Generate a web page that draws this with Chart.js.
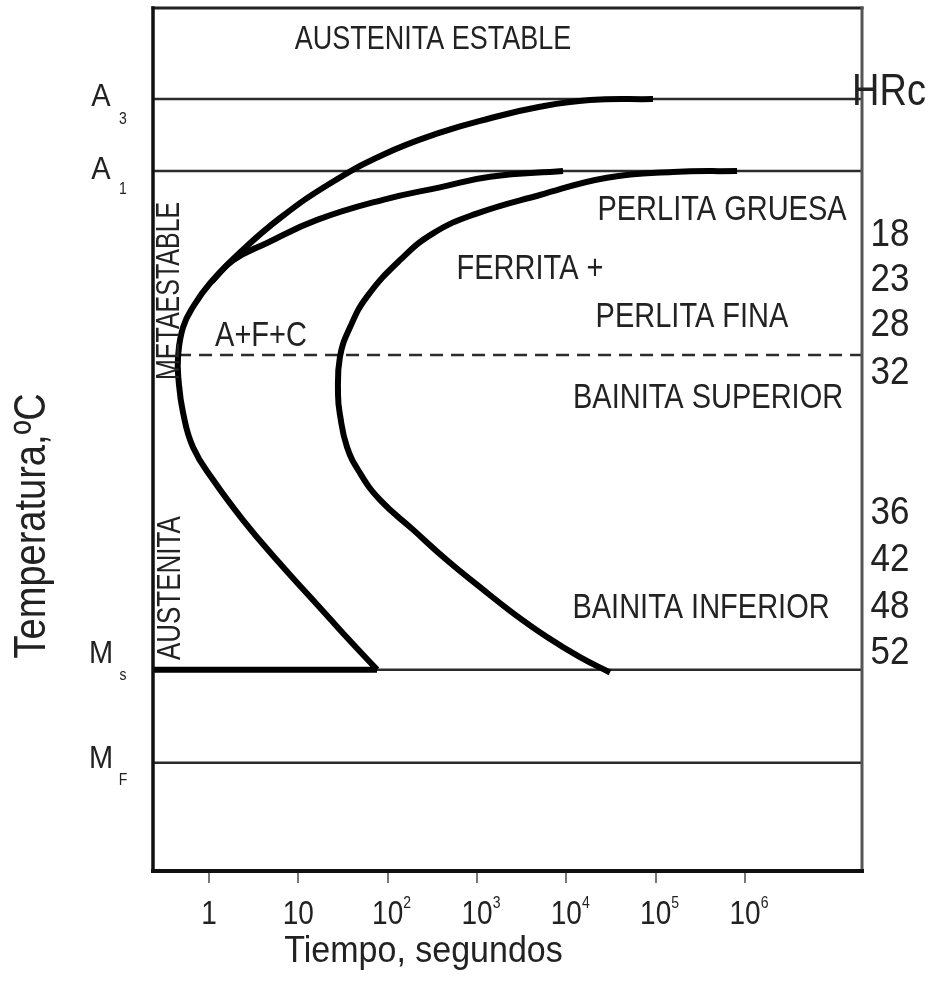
<!DOCTYPE html>
<html>
<head>
<meta charset="utf-8">
<script src="https://cdn.jsdelivr.net/npm/chart.js@4.4.1/dist/chart.umd.min.js"></script>
<style>
  html, body { margin: 0; padding: 0; background: #fff; }
  canvas { display: block; }
</style>
</head>
<body>
<canvas id="ttt" width="932" height="981"></canvas>
<script>
// Diagrama TTT (tiempo en s, temperatura en ºC)
var timeMin = 0.236, timeMax = 2.04e7;
var tempMin = 0, tempMax = 900;

var decades = [1, 10, 100, 1e3, 1e4, 1e5, 1e6];
var decadeBase = ['1', '10', '10', '10', '10', '10', '10'];
var decadeExp = ['', '', '2', '3', '4', '5', '6'];

// curva de inicio de transformacion
var startTime = [93300, 18400, 5070, 1400, 385, 88.7, 22.6, 6.24, 2.22, 1.026, 0.68, 0.512, 0.450, 0.456, 0.512, 0.662, 1.11, 2.40, 5.77, 13.5, 31.6, 76];
var startTemp = [805, 804, 797, 785, 770, 747, 717, 681, 645, 613, 590, 567, 536, 512, 478, 442, 408, 366, 324, 286, 248, 210];

// rama de ferrita proeutectoide (desde A1)
var branchTime = [9180, 1400, 385, 88.7, 16.2, 4.46, 1.86, 1.08];
var branchTemp = [730, 724, 713, 700, 679, 655, 637, 615];

// curva de fin de transformacion
var finishTime = [815000, 156000, 28500, 5070, 950, 322, 137, 58.7, 37.9, 29.2, 27.8, 29.2, 35.1, 49, 82, 192, 462, 1081, 2530, 6080, 14200, 30800];
var finishTemp = [730, 729, 723, 705, 685, 665, 637, 599, 567, 536, 497, 476, 442, 415, 387, 356, 324, 296, 269, 244, 223, 207];

// temperaturas criticas
var tempA3 = 805, tempA1 = 730, tempPerlBain = 538, tempMs = 210, tempMf = 113;

// dureza HRc segun temperatura de transformacion
var hrcValues = [18, 23, 28, 32, 36, 42, 48, 52];
var hrcTemps = [663, 616, 569, 519, 373, 324, 275, 227];

function pts(xs, ys) {
    return xs.map(function (v, i) { return { x: v, y: ys[i] }; });
}

function hline(t, x0, x1) {
    return [{ x: x0, y: t }, { x: x1, y: t }];
}

// texto algo alargado en vertical, como en el original
function stretched(ctx, text, px, py, size, sy, rot, align) {
    ctx.save();
    ctx.translate(px, py);
    if (rot) ctx.rotate(rot);
    ctx.scale(1, sy);
    ctx.font = size + 'px "Liberation Sans", Arial, sans-serif';
    ctx.textAlign = align || 'center';
    ctx.textBaseline = 'middle';
    ctx.fillText(text, 0, 0);
    ctx.restore();
}

var diagramText = {
    id: 'diagramText',
    afterDraw: function (chart) {
        var ctx = chart.ctx, a = chart.chartArea;
        var x = chart.scales.x, y = chart.scales.y;

        // marco
        ctx.save();
        function seg(x0, y0, x1, y1, w, c) {
            ctx.beginPath();
            ctx.lineWidth = w;
            ctx.strokeStyle = c;
            ctx.moveTo(x0, y0);
            ctx.lineTo(x1, y1);
            ctx.stroke();
        }
        ctx.lineCap = 'square';
        seg(a.left, a.top, a.right, a.top, 3, '#222');
        seg(a.right, a.top, a.right, a.bottom, 3, '#555');
        seg(a.left, a.top, a.left, a.bottom, 3.5, '#111');
        seg(a.left, a.bottom, a.right, a.bottom, 4, '#111');
        ctx.restore();

        ctx.save();
        ctx.fillStyle = '#222';

        // etiquetas de regiones
        var regions = [
            ['AUSTENITA ESTABLE', 322, 867, 27],
            ['PERLITA GRUESA', 553000, 689, 29],
            ['FERRITA +', 3920, 627, 29],
            ['PERLITA FINA', 255000, 577, 29],
            ['A+F+C', 3.82, 557, 29],
            ['BAINITA SUPERIOR', 386000, 493, 29],
            ['BAINITA INFERIOR', 322000, 274, 29]
        ];
        regions.forEach(function (r) {
            stretched(ctx, r[0], x.getPixelForValue(r[1]), y.getPixelForValue(r[2]), r[3], 1.2);
        });
        stretched(ctx, 'METAESTABLE', x.getPixelForValue(0.366), y.getPixelForValue(605), 25, 1.3, -Math.PI / 2);
        stretched(ctx, 'AUSTENITA', x.getPixelForValue(0.376), y.getPixelForValue(295), 26, 1.3, -Math.PI / 2);

        // temperaturas criticas a la izquierda
        var crit = [
            ['A', '3', tempA3, -2, 20],
            ['A', '1', tempA1, -1, 18],
            ['M', 's', tempMs, -15, 6],
            ['M', 'F', tempMf, -3, 18]
        ];
        crit.forEach(function (c) {
            var py = y.getPixelForValue(c[2]);
            stretched(ctx, c[0], a.left - 52, py + c[3], 29, 1.1);
            stretched(ctx, c[1], a.left - 30, py + c[4], 14, 1.2);
        });

        // dureza HRc a la derecha
        stretched(ctx, 'HRc', a.right + 27, y.getPixelForValue(tempA3) - 6, 38, 1.15);
        hrcValues.forEach(function (v, i) {
            stretched(ctx, String(v), a.right + 28, y.getPixelForValue(hrcTemps[i]), 35, 1.1);
        });

        // etiquetas del eje de tiempo
        decades.forEach(function (d, i) {
            var px = x.getPixelForValue(d);
            stretched(ctx, decadeBase[i], px, a.bottom + 44, 28, 1.2);
            if (decadeExp[i]) {
                ctx.font = '28px "Liberation Sans", Arial, sans-serif';
                var w = ctx.measureText(decadeBase[i]).width;
                stretched(ctx, decadeExp[i], px + w / 2 + 4, a.bottom + 32, 14, 1.2);
            }
        });

        // titulos de ejes
        stretched(ctx, 'Tiempo, segundos', (a.left + a.right) / 2 - 84, a.bottom + 81, 34, 1.1);
        stretched(ctx, 'Temperatura,ºC', 33, y.getPixelForValue(tempMs + 150), 38, 1.18, -Math.PI / 2);
        ctx.restore();
    }
};

var thin = '#2b2b2b';
var chart = new Chart(document.getElementById('ttt').getContext('2d'), {
    type: 'scatter',
    data: {
        datasets: [
            { data: pts(startTime, startTemp), borderColor: '#000', borderWidth: 6, tension: 0.45 },
            { data: pts(branchTime, branchTemp), borderColor: '#000', borderWidth: 6, tension: 0.45 },
            { data: pts(finishTime, finishTemp), borderColor: '#000', borderWidth: 6, tension: 0.45 },
            { data: hline(tempMs, timeMin, startTime[startTime.length - 1]), borderColor: '#000', borderWidth: 6 },
            { data: hline(tempPerlBain, startTime[12], timeMax), borderColor: thin, borderWidth: 2.5, borderDash: [13, 8] },
            { data: hline(tempA3, timeMin, timeMax), borderColor: thin, borderWidth: 2.5 },
            { data: hline(tempA1, timeMin, timeMax), borderColor: thin, borderWidth: 2.5 },
            { data: hline(tempMs, timeMin, timeMax), borderColor: thin, borderWidth: 2.5 },
            { data: hline(tempMf, timeMin, timeMax), borderColor: thin, borderWidth: 2.5 }
        ]
    },
    options: {
        responsive: false,
        animation: false,
        showLine: true,
        layout: { padding: { left: 153, right: 70, top: 8, bottom: 0 } },
        elements: { point: { radius: 0, hoverRadius: 0 } },
        plugins: {
            legend: { display: false },
            tooltip: { enabled: false }
        },
        scales: {
            x: {
                type: 'logarithmic',
                min: timeMin,
                max: timeMax,
                afterBuildTicks: function (s) {
                    s.ticks = decades.map(function (v) { return { value: v }; });
                },
                afterFit: function (s) { s.height = 110; },
                border: { display: false },
                grid: { drawOnChartArea: false, drawTicks: true, tickLength: 12, color: '#777', lineWidth: 2 },
                ticks: { display: false }
            },
            y: {
                type: 'linear',
                min: tempMin,
                max: tempMax,
                display: false
            }
        }
    },
    plugins: [diagramText]
});
</script>
</body>
</html>
